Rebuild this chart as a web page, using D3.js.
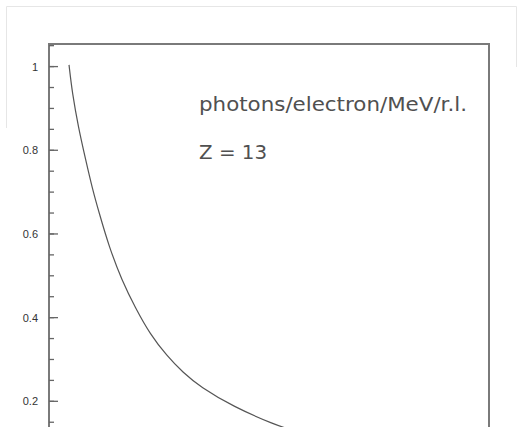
<!DOCTYPE html>
<html>
<head>
<meta charset="UTF-8" />
<style>
  body { margin: 0; padding: 0; background: #fff; overflow: hidden; }
  svg { display: block; font-family: "DejaVu Sans", "Liberation Sans", sans-serif; }
</style>
</head>
<body>
<svg id="chart" width="523" height="427"></svg>
<script src="https://d3js.org/d3.v7.min.js"></script>
<script>
  // spectrum (x in arbitrary units, frame = 0..100)
  const xs = [4.55, 5.30, 6.66, 8.34, 9.84, 11.43, 13.64, 16.52, 19.70, 22.95, 26.75, 30.52, 34.32, 41.89, 51.36, 55.0];
  const ys = [1.004, 0.936, 0.856, 0.777, 0.709, 0.649, 0.570, 0.490, 0.422, 0.361, 0.309, 0.268, 0.235, 0.187, 0.144, 0.132];
  const majorTicks = [0.2, 0.4, 0.6, 0.8, 1];
  const tickLabels = ["0.2", "0.4", "0.6", "0.8", "1"];
  const minorTicks = d3.range(0.05, 1.051, 0.05);
  const textLines = ["photons/electron/MeV/r.l.", "Z = 13"];

  const svg = d3.select("#chart");
  const fLeft = 49, fRight = 489, fTop = 44, fBottom = 485;

  const x = d3.scaleLinear().domain([0, 100]).range([fLeft, fRight]);
  const y = d3.scaleLinear().domain([0, 1.054]).range([fBottom, fTop]);

  // faint outer border
  svg.append("path")
    .attr("d", "M6.5,128V6.5H516.5V67")
    .attr("fill", "none")
    .attr("stroke", "#e6e6e6")
    .attr("stroke-width", 1);

  // frame
  svg.append("rect")
    .attr("x", fLeft).attr("y", fTop)
    .attr("width", fRight - fLeft).attr("height", fBottom - fTop)
    .attr("fill", "none")
    .attr("stroke", "#7a7a7a")
    .attr("stroke-width", 2);

  // ticks
  svg.selectAll(".minor").data(minorTicks).enter().append("line")
    .attr("x1", fLeft).attr("x2", fLeft + 5)
    .attr("y1", d => y(d)).attr("y2", d => y(d))
    .attr("stroke", "#666").attr("stroke-width", 1.3);

  svg.selectAll(".major").data(majorTicks).enter().append("line")
    .attr("x1", fLeft).attr("x2", fLeft + 9)
    .attr("y1", d => y(d)).attr("y2", d => y(d))
    .attr("stroke", "#666").attr("stroke-width", 1.3);

  svg.selectAll(".lbl").data(majorTicks).enter().append("text")
    .attr("x", 38)
    .attr("y", d => y(d) + 4)
    .attr("text-anchor", "end")
    .attr("font-family", "Liberation Sans, Arial, sans-serif")
    .attr("font-size", 11)
    .attr("fill", "#333")
    .text((d, i) => tickLabels[i]);

  // curve
  const pts = xs.map((d, i) => [d, ys[i]]);
  svg.append("path")
    .datum(pts)
    .attr("fill", "none")
    .attr("stroke", "#555")
    .attr("stroke-width", 1.2)
    .attr("d", d3.line().x(d => x(d[0])).y(d => y(d[1])).curve(d3.curveBasis));

  // annotations
  svg.append("text")
    .attr("x", 199).attr("y", 111)
    .attr("font-size", 20)
    .attr("fill", "#505050")
    .attr("textLength", 268)
    .attr("lengthAdjust", "spacingAndGlyphs")
    .text(textLines[0]);
  svg.append("text")
    .attr("x", 199).attr("y", 159)
    .attr("font-size", 20)
    .attr("fill", "#505050")
    .attr("textLength", 68)
    .attr("lengthAdjust", "spacingAndGlyphs")
    .text(textLines[1]);
</script>
</body>
</html>
